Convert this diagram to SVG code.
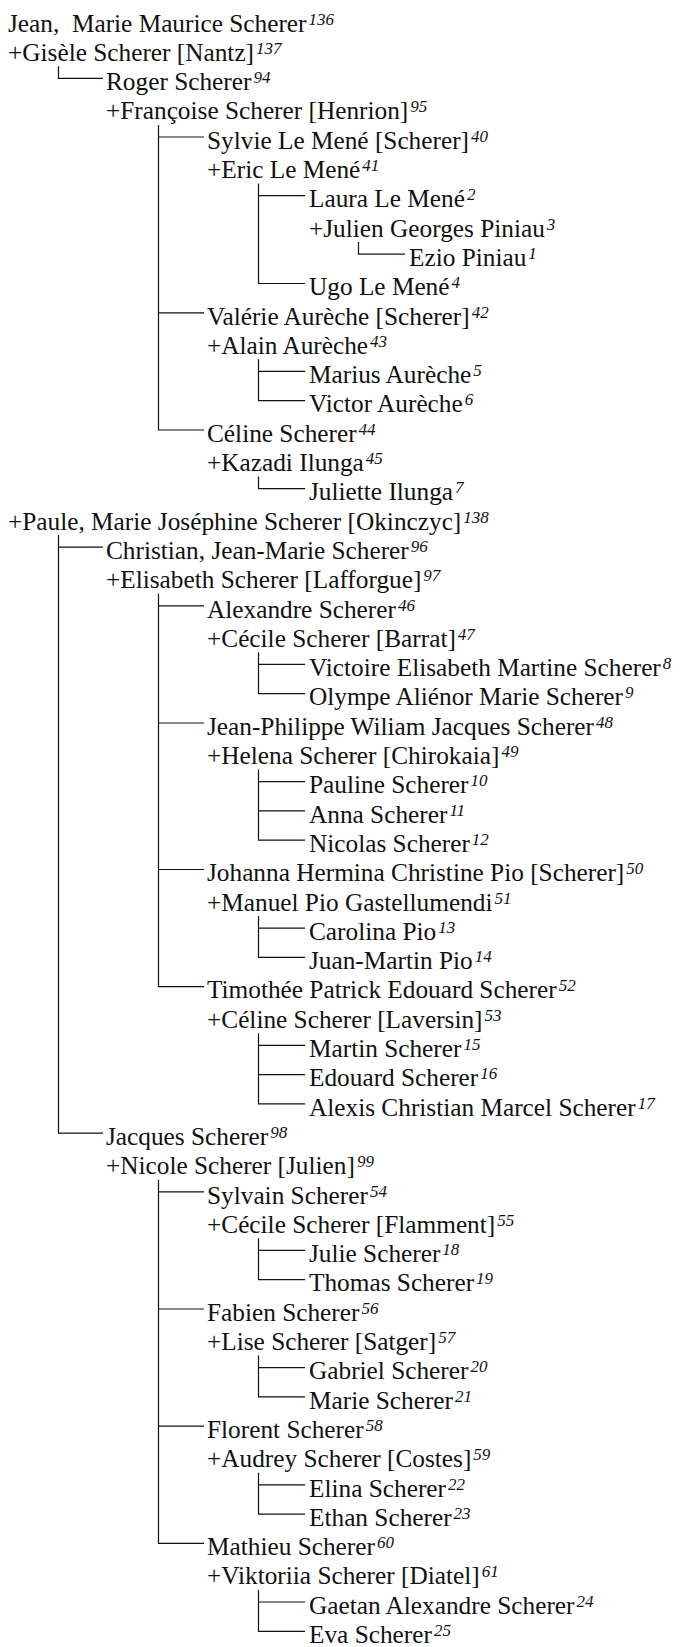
<svg xmlns="http://www.w3.org/2000/svg" width="697" height="1647" viewBox="0 0 697 1647">
<style>
text{font-family:'Liberation Serif','Times New Roman','Nimbus Roman','Nimbus Roman No9 L','TeX Gyre Termes',FreeSerif,'Noto Serif','Noto Serif CJK SC','Noto Serif CJK JP','Source Serif Pro','Droid Serif','DejaVu Serif',Georgia,serif;font-size:25.3px;fill:#111}
.s{font-style:italic;font-size:17px}
#connectors path{fill:none;stroke:#111;stroke-width:1.2}
</style>
<rect width="697" height="1647" fill="#fff"/>
<g id="connectors">
<path d="M58.5,66.3V78.4H103"/>
<path d="M58.5,535.1V1133.2H103M58.5,547.2H103"/>
<path d="M158.5,124.9V430H204M158.5,137H204M158.5,312.8H204"/>
<path d="M258.5,183.5V283.5H305M258.5,195.6H305"/>
<path d="M358.5,242.1V254.2H405"/>
<path d="M258.5,359.3V400.7H305M258.5,371.4H305"/>
<path d="M258.5,476.5V488.6H305"/>
<path d="M158.5,593.7V986.7H204M158.5,605.8H204M158.5,723H204M158.5,869.5H204"/>
<path d="M258.5,652.3V693.7H305M258.5,664.4H305"/>
<path d="M258.5,769.5V840.2H305M258.5,781.6H305M258.5,810.9H305"/>
<path d="M258.5,916V957.4H305M258.5,928.1H305"/>
<path d="M258.5,1033.2V1103.9H305M258.5,1045.3H305M258.5,1074.6H305"/>
<path d="M158.5,1179.7V1543.4H204M158.5,1191.8H204M158.5,1309H204M158.5,1426.2H204"/>
<path d="M258.5,1238.3V1279.7H305M258.5,1250.4H305"/>
<path d="M258.5,1355.5V1396.9H305M258.5,1367.6H305"/>
<path d="M258.5,1472.7V1514.1H305M258.5,1484.8H305"/>
<path d="M258.5,1589.9V1631.3H305M258.5,1602H305"/>
</g>
<g id="n1"><text x="8" y="31.5" xml:space="preserve">Jean,  Marie Maurice Scherer<tspan class="s" dx="2" dy="-7">136</tspan></text></g>
<g id="n2"><text x="8" y="60.8">+Gisèle Scherer [Nantz]<tspan class="s" dx="2" dy="-7">137</tspan></text></g>
<g id="n3"><text x="106" y="90.1">Roger Scherer<tspan class="s" dx="2" dy="-7">94</tspan></text></g>
<g id="n4"><text x="106" y="119.4">+Françoise Scherer [Henrion]<tspan class="s" dx="2" dy="-7">95</tspan></text></g>
<g id="n5"><text x="207" y="148.7">Sylvie Le Mené [Scherer]<tspan class="s" dx="2" dy="-7">40</tspan></text></g>
<g id="n6"><text x="207" y="178">+Eric Le Mené<tspan class="s" dx="2" dy="-7">41</tspan></text></g>
<g id="n7"><text x="309" y="207.3">Laura Le Mené<tspan class="s" dx="2" dy="-7">2</tspan></text></g>
<g id="n8"><text x="309" y="236.6">+Julien Georges Piniau<tspan class="s" dx="2" dy="-7">3</tspan></text></g>
<g id="n9"><text x="409" y="265.9">Ezio Piniau<tspan class="s" dx="2" dy="-7">1</tspan></text></g>
<g id="n10"><text x="309" y="295.2">Ugo Le Mené<tspan class="s" dx="2" dy="-7">4</tspan></text></g>
<g id="n11"><text x="207" y="324.5">Valérie Aurèche [Scherer]<tspan class="s" dx="2" dy="-7">42</tspan></text></g>
<g id="n12"><text x="207" y="353.8">+Alain Aurèche<tspan class="s" dx="2" dy="-7">43</tspan></text></g>
<g id="n13"><text x="309" y="383.1">Marius Aurèche<tspan class="s" dx="2" dy="-7">5</tspan></text></g>
<g id="n14"><text x="309" y="412.4">Victor Aurèche<tspan class="s" dx="2" dy="-7">6</tspan></text></g>
<g id="n15"><text x="207" y="441.7">Céline Scherer<tspan class="s" dx="2" dy="-7">44</tspan></text></g>
<g id="n16"><text x="207" y="471">+Kazadi Ilunga<tspan class="s" dx="2" dy="-7">45</tspan></text></g>
<g id="n17"><text x="309" y="500.3">Juliette Ilunga<tspan class="s" dx="2" dy="-7">7</tspan></text></g>
<g id="n18"><text x="8" y="529.6">+Paule, Marie Joséphine Scherer [Okinczyc]<tspan class="s" dx="2" dy="-7">138</tspan></text></g>
<g id="n19"><text x="106" y="558.9">Christian, Jean-Marie Scherer<tspan class="s" dx="2" dy="-7">96</tspan></text></g>
<g id="n20"><text x="106" y="588.2">+Elisabeth Scherer [Lafforgue]<tspan class="s" dx="2" dy="-7">97</tspan></text></g>
<g id="n21"><text x="207" y="617.5">Alexandre Scherer<tspan class="s" dx="2" dy="-7">46</tspan></text></g>
<g id="n22"><text x="207" y="646.8">+Cécile Scherer [Barrat]<tspan class="s" dx="2" dy="-7">47</tspan></text></g>
<g id="n23"><text x="309" y="676.1">Victoire Elisabeth Martine Scherer<tspan class="s" dx="2" dy="-7">8</tspan></text></g>
<g id="n24"><text x="309" y="705.4">Olympe Aliénor Marie Scherer<tspan class="s" dx="2" dy="-7">9</tspan></text></g>
<g id="n25"><text x="207" y="734.7">Jean-Philippe Wiliam Jacques Scherer<tspan class="s" dx="2" dy="-7">48</tspan></text></g>
<g id="n26"><text x="207" y="764">+Helena Scherer [Chirokaia]<tspan class="s" dx="2" dy="-7">49</tspan></text></g>
<g id="n27"><text x="309" y="793.3">Pauline Scherer<tspan class="s" dx="2" dy="-7">10</tspan></text></g>
<g id="n28"><text x="309" y="822.6">Anna Scherer<tspan class="s" dx="2" dy="-7">11</tspan></text></g>
<g id="n29"><text x="309" y="851.9">Nicolas Scherer<tspan class="s" dx="2" dy="-7">12</tspan></text></g>
<g id="n30"><text x="207" y="881.2">Johanna Hermina Christine Pio [Scherer]<tspan class="s" dx="2" dy="-7">50</tspan></text></g>
<g id="n31"><text x="207" y="910.5">+Manuel Pio Gastellumendi<tspan class="s" dx="2" dy="-7">51</tspan></text></g>
<g id="n32"><text x="309" y="939.8">Carolina Pio<tspan class="s" dx="2" dy="-7">13</tspan></text></g>
<g id="n33"><text x="309" y="969.1">Juan-Martin Pio<tspan class="s" dx="2" dy="-7">14</tspan></text></g>
<g id="n34"><text x="207" y="998.4">Timothée Patrick Edouard Scherer<tspan class="s" dx="2" dy="-7">52</tspan></text></g>
<g id="n35"><text x="207" y="1027.7">+Céline Scherer [Laversin]<tspan class="s" dx="2" dy="-7">53</tspan></text></g>
<g id="n36"><text x="309" y="1057">Martin Scherer<tspan class="s" dx="2" dy="-7">15</tspan></text></g>
<g id="n37"><text x="309" y="1086.3">Edouard Scherer<tspan class="s" dx="2" dy="-7">16</tspan></text></g>
<g id="n38"><text x="309" y="1115.6">Alexis Christian Marcel Scherer<tspan class="s" dx="2" dy="-7">17</tspan></text></g>
<g id="n39"><text x="106" y="1144.9">Jacques Scherer<tspan class="s" dx="2" dy="-7">98</tspan></text></g>
<g id="n40"><text x="106" y="1174.2">+Nicole Scherer [Julien]<tspan class="s" dx="2" dy="-7">99</tspan></text></g>
<g id="n41"><text x="207" y="1203.5">Sylvain Scherer<tspan class="s" dx="2" dy="-7">54</tspan></text></g>
<g id="n42"><text x="207" y="1232.8">+Cécile Scherer [Flamment]<tspan class="s" dx="2" dy="-7">55</tspan></text></g>
<g id="n43"><text x="309" y="1262.1">Julie Scherer<tspan class="s" dx="2" dy="-7">18</tspan></text></g>
<g id="n44"><text x="309" y="1291.4">Thomas Scherer<tspan class="s" dx="2" dy="-7">19</tspan></text></g>
<g id="n45"><text x="207" y="1320.7">Fabien Scherer<tspan class="s" dx="2" dy="-7">56</tspan></text></g>
<g id="n46"><text x="207" y="1350">+Lise Scherer [Satger]<tspan class="s" dx="2" dy="-7">57</tspan></text></g>
<g id="n47"><text x="309" y="1379.3">Gabriel Scherer<tspan class="s" dx="2" dy="-7">20</tspan></text></g>
<g id="n48"><text x="309" y="1408.6">Marie Scherer<tspan class="s" dx="2" dy="-7">21</tspan></text></g>
<g id="n49"><text x="207" y="1437.9">Florent Scherer<tspan class="s" dx="2" dy="-7">58</tspan></text></g>
<g id="n50"><text x="207" y="1467.2">+Audrey Scherer [Costes]<tspan class="s" dx="2" dy="-7">59</tspan></text></g>
<g id="n51"><text x="309" y="1496.5">Elina Scherer<tspan class="s" dx="2" dy="-7">22</tspan></text></g>
<g id="n52"><text x="309" y="1525.8">Ethan Scherer<tspan class="s" dx="2" dy="-7">23</tspan></text></g>
<g id="n53"><text x="207" y="1555.1">Mathieu Scherer<tspan class="s" dx="2" dy="-7">60</tspan></text></g>
<g id="n54"><text x="207" y="1584.4">+Viktoriia Scherer [Diatel]<tspan class="s" dx="2" dy="-7">61</tspan></text></g>
<g id="n55"><text x="309" y="1613.7">Gaetan Alexandre Scherer<tspan class="s" dx="2" dy="-7">24</tspan></text></g>
<g id="n56"><text x="309" y="1643">Eva Scherer<tspan class="s" dx="2" dy="-7">25</tspan></text></g>
</svg>
